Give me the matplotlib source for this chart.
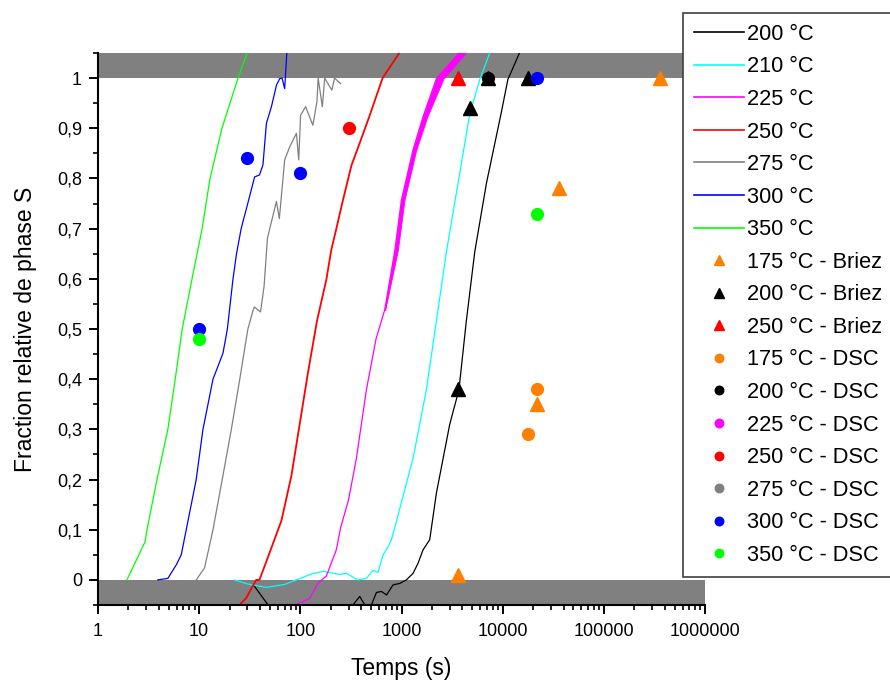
import matplotlib
matplotlib.use("Agg")
import matplotlib.pyplot as plt
from matplotlib.lines import Line2D

plt.rcParams['font.family'] = ['Liberation Sans', 'DejaVu Sans']

# --- courbes simulées (temps en s, fraction) ---
t_200 = [35, 48, 70, 200, 300, 331, 386, 435, 470, 504, 565, 634, 712, 824, 960, 1117, 1300,
         1456, 1633, 1900, 2213, 2997, 3697, 4373, 5300, 6920, 9640, 11250, 14650]
f_200 = [-0.012, -0.05, -0.09, -0.12, -0.07, -0.05, -0.033, -0.05, -0.06, -0.05, -0.025, -0.023,
         -0.03, -0.01, -0.007, 0.0, 0.013, 0.033, 0.06, 0.08, 0.173, 0.31, 0.379, 0.516, 0.654,
         0.791, 0.929, 0.997, 1.05]

t_210 = [22.4, 30, 46, 70, 91.3, 130, 167, 245, 285, 371, 450, 523, 586, 657, 737, 795, 857,
         1300, 1762, 2213, 2780, 3625, 4730, 5935, 7450]
f_210 = [0.0, -0.008, -0.015, -0.009, 0.0, 0.012, 0.017, 0.011, 0.013, 0.0, 0.003, 0.019,
         0.015, 0.05, 0.066, 0.08, 0.104, 0.242, 0.379, 0.516, 0.654, 0.791, 0.929, 0.997, 1.05]

t_225 = [93, 124, 149, 181, 227, 250, 300, 358, 450, 560, 682, 860, 998, 1300, 1633, 2213, 3700]
f_225 = [-0.048, -0.037, -0.007, 0.008, 0.06, 0.104, 0.16, 0.242, 0.379, 0.48, 0.538, 0.657,
         0.757, 0.857, 0.923, 0.999, 1.05]
# bande de bruit (bord droit) de la courbe 225 °C
f_225_bruit = [0.538, 0.657, 0.757, 0.857, 0.923, 0.999, 1.05]
t_225_bruit = [690, 920, 1070, 1400, 1800, 2600, 4300]

t_250 = [22, 25, 29.2, 36.6, 39.4, 46, 65, 81.5, 98.5, 119, 146, 181, 202, 227, 264, 320,
         365, 480, 650, 950]
f_250 = [-0.06, -0.05, -0.036, 0.0, 0.0, 0.036, 0.118, 0.207, 0.31, 0.413, 0.516, 0.599,
         0.657, 0.7, 0.757, 0.826, 0.857, 0.923, 1.0, 1.05]

t_275 = [9.35, 11.3, 13.7, 16.9, 20.8, 25.2, 30.3, 34.1, 35.1, 40.4, 43.8, 47.3, 58, 62,
         70, 78.5, 91.5, 96.4, 100.6, 112.8, 133, 146, 150, 165, 174, 205, 218, 250]
f_275 = [0.0, 0.024, 0.1, 0.2, 0.3, 0.4, 0.5, 0.537, 0.544, 0.534, 0.585, 0.681, 0.754, 0.72,
         0.837, 0.863, 0.89, 0.837, 0.926, 0.943, 0.906, 0.953, 1.0, 0.943, 1.0, 0.976, 1.0,
         0.989]

t_300 = [3.9, 4.9, 5.94, 6.65, 7.45, 9.35, 10.9, 13.7, 17.2, 19, 21.6, 23.4, 26, 30.3, 35.3,
         39.5, 42.7, 46.2, 51.8, 58.1, 62.6, 66, 70, 73.5]
f_300 = [0.0, 0.003, 0.03, 0.05, 0.1, 0.2, 0.3, 0.4, 0.452, 0.5, 0.6, 0.65, 0.7, 0.751, 0.803,
         0.807, 0.827, 0.91, 0.943, 0.986, 0.999, 1.0, 0.979, 1.05]

t_350 = [1.93, 2.92, 3.05, 3.83, 4.9, 5.8, 6.8, 8.5, 10.7, 12.8, 16.8, 24.2, 29.8]
f_350 = [0.0, 0.076, 0.1, 0.2, 0.3, 0.4, 0.5, 0.6, 0.7, 0.8, 0.9, 1.0, 1.05]

# --- points expérimentaux ---
briez_175_t = [3600, 21600, 36000, 360000]
briez_175_f = [0.01, 0.35, 0.78, 1.0]
briez_200_t = [3600, 4800, 7200, 18000]
briez_200_f = [0.38, 0.94, 1.0, 1.0]
briez_250_t = [3600]
briez_250_f = [1.0]

dsc_175_t = [18000, 21600]
dsc_175_f = [0.29, 0.38]
dsc_200_t = [7200]
dsc_200_f = [1.0]
dsc_225_t = []
dsc_225_f = []
dsc_250_t = [300]
dsc_250_f = [0.9]
dsc_275_t = []
dsc_275_f = []
dsc_300_t = [10, 30, 100, 21600]
dsc_300_f = [0.5, 0.84, 0.81, 1.0]
dsc_350_t = [10, 21600]
dsc_350_f = [0.48, 0.73]

orange = '#FF8000'

fig = plt.figure(figsize=(8.9, 6.82), dpi=100)
ax = fig.add_axes([98 / 890, 1 - 605 / 682, 607 / 890, 552 / 682])

ax.axhspan(1.0, 1.05, color='#808080', lw=0, zorder=0)
ax.axhspan(-0.05, 0.0, color='#808080', lw=0, zorder=0)

lw = 0.9
courbes = [
    (t_200, f_200, 'black', '200 °C'),
    (t_210, f_210, '#00FFFF', '210 °C'),
    (t_225, f_225, '#FF00FF', '225 °C'),
    (t_250, f_250, '#FF0000', '250 °C'),
    (t_275, f_275, '#808080', '275 °C'),
    (t_300, f_300, '#0000FF', '300 °C'),
    (t_350, f_350, '#00FF00', '350 °C'),
]
handles = []
for t, f, c, lab in courbes:
    w = 1.3 if lab == '250 °C' else lw
    ax.plot(t, f, color=c, lw=w, zorder=2)
    handles.append(Line2D([], [], color=c, lw=1.2, label=lab))

# épaisseur bruitée de la courbe 225 °C
ax.fill_betweenx(f_225_bruit, [t_225[f_225.index(v)] for v in f_225_bruit], t_225_bruit,
                 color='#FF00FF', lw=0.6, zorder=2)

points = [
    (briez_175_t, briez_175_f, orange, '^', '175 °C - Briez'),
    (briez_200_t, briez_200_f, 'black', '^', '200 °C - Briez'),
    (briez_250_t, briez_250_f, '#FF0000', '^', '250 °C - Briez'),
    (dsc_175_t, dsc_175_f, orange, 'o', '175 °C - DSC'),
    (dsc_200_t, dsc_200_f, 'black', 'o', '200 °C - DSC'),
    (dsc_225_t, dsc_225_f, '#FF00FF', 'o', '225 °C - DSC'),
    (dsc_250_t, dsc_250_f, '#FF0000', 'o', '250 °C - DSC'),
    (dsc_275_t, dsc_275_f, '#808080', 'o', '275 °C - DSC'),
    (dsc_300_t, dsc_300_f, '#0000FF', 'o', '300 °C - DSC'),
    (dsc_350_t, dsc_350_f, '#00FF00', 'o', '350 °C - DSC'),
]
for t, f, c, m, lab in points:
    ms = 10.5 if m == '^' else 8.5
    ax.plot(t, f, ls='none', marker=m, ms=ms, color=c, mec=c, zorder=3)
    handles.append(Line2D([], [], ls='none', marker=m, ms=ms * 0.72, color=c, mec=c, label=lab))

ax.set_xscale('log')
ax.set_xlim(1, 1e6)
ax.set_ylim(-0.05, 1.05)

xt = [1, 10, 100, 1000, 10000, 100000, 1000000]
ax.set_xticks(xt)
ax.set_xticklabels([str(v) for v in xt])
yt = [i / 10 for i in range(11)]
ax.set_yticks(yt)
ax.set_yticklabels(['0'] + ['0,%d' % i for i in range(1, 10)] + ['1'])
ax.set_yticks([i / 20 for i in range(-1, 22, 2)], minor=True)

ax.tick_params(which='major', direction='out', length=6.5, width=1.4, labelsize=13)
ax.tick_params(axis='y', which='major', pad=5)
ax.tick_params(axis='x', which='major', pad=6.5)
ax.tick_params(which='minor', direction='out', length=3.5, width=1.2)

for s in ['top', 'right']:
    ax.spines[s].set_visible(False)
for s in ['left', 'bottom']:
    ax.spines[s].set_linewidth(1.5)

ax.set_xlabel('Temps (s)', fontsize=16.5, labelpad=12)
ax.set_ylabel('Fraction relative de phase S', fontsize=16.5, labelpad=14)

leg = ax.legend(handles=handles, loc='upper left', bbox_to_anchor=(683 / 890, 1 - 13 / 682),
                bbox_transform=fig.transFigure, fontsize=15.7, frameon=True, fancybox=False,
                edgecolor='#404040', framealpha=1, borderaxespad=0, borderpad=0.5,
                labelspacing=0.53, handlelength=2.3, handletextpad=0.15)
leg.get_frame().set_linewidth(1.2)
leg.set_zorder(5)

fig.savefig('out.png', dpi=100)
